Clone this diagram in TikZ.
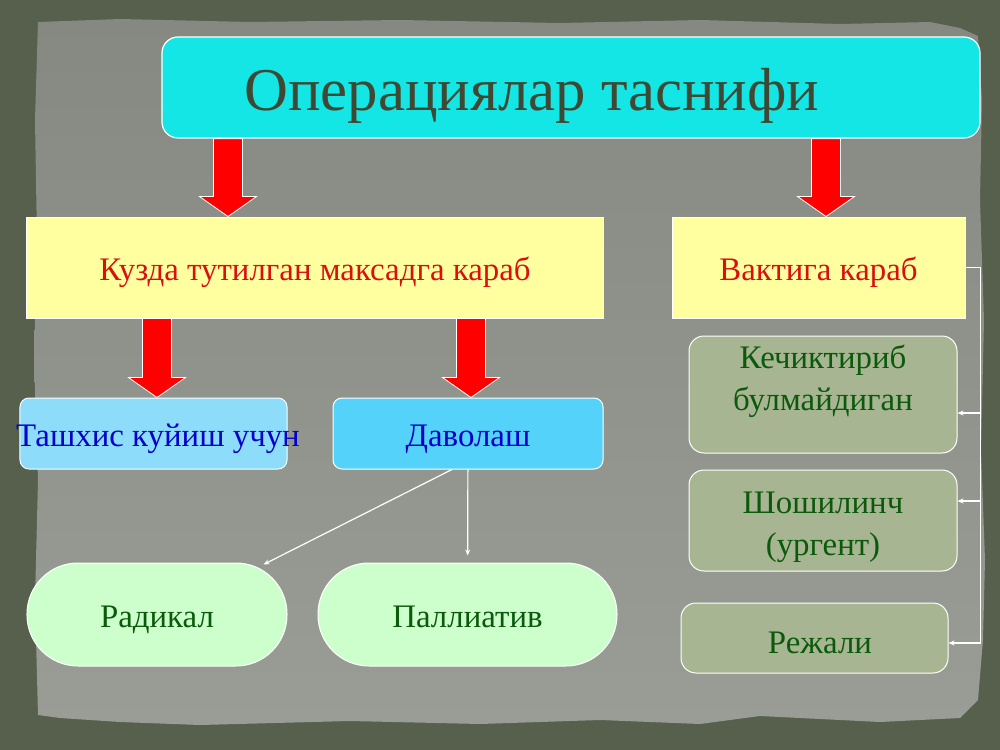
\documentclass[tikz,border=0pt]{standalone}
\usepackage{fontspec}
\setmainfont{Liberation Serif}
\usetikzlibrary{calc,arrows.meta}
\definecolor{framegray}{HTML}{56604D}
\definecolor{paneltop}{HTML}{858981}
\definecolor{panelbot}{HTML}{999D95}
\definecolor{titlecyan}{HTML}{14E6E6}
\definecolor{titleink}{HTML}{3E4832}
\definecolor{paleyellow}{HTML}{FFFFA0}
\definecolor{kred}{HTML}{D81010}
\definecolor{skyA}{HTML}{8CDCFA}
\definecolor{skyB}{HTML}{55D2FA}
\definecolor{kblue}{HTML}{0000CC}
\definecolor{mint}{HTML}{CCFFCC}
\definecolor{sage}{HTML}{A7B592}
\definecolor{dgreen}{HTML}{0B5A0B}
% red block arrow: x position, upper node, lower node
\newcommand\blockarrow[3]{%
\draw[redarrow] let \p1=(#1,0), \p2=(#2.south), \p3=(#3.north) in
 (\x1-14.5pt,\y2) -- (\x1+14.5pt,\y2) -- (\x1+14.5pt,\y3+20pt)
 -- (\x1+28.5pt,\y3+20pt) -- (\x1,\y3) -- (\x1-28.5pt,\y3+20pt)
 -- (\x1-14.5pt,\y3+20pt) -- cycle;}
\begin{document}
\begin{tikzpicture}[x=1bp,y=-1bp,
 bodyfont/.style={font=\fontsize{33}{42}\selectfont,text height=32bp,text depth=7bp},
 topbox/.style={draw=white,line width=1.2bp,fill=titlecyan,rounded corners=16bp,
  minimum width=818bp,minimum height=101bp,inner sep=0pt},
 yelbox/.style={draw=white,line width=1bp,fill=paleyellow,minimum height=101bp,
  inner sep=0pt,text=kred,bodyfont},
 bluebox/.style={draw=white,line width=1bp,rounded corners=9bp,minimum height=71bp,
  inner sep=0pt,text=kblue,bodyfont},
 pill/.style={draw=white,line width=1bp,fill=mint,rounded corners=51bp,
  minimum height=103bp,inner sep=0pt,text=dgreen,bodyfont},
 sagebox/.style={draw=white,line width=1bp,fill=sage,rounded corners=15bp,
  minimum width=268bp,inner sep=0pt},
 sagetxt/.style={align=center,text=dgreen,font=\fontsize{33}{42}\selectfont},
 redarrow/.style={draw=white,line width=0.8bp,fill=red},
 wline/.style={draw=white,line width=1.2bp},
 warrow/.style={wline,-{Stealth[length=6bp,width=5bp]}}]
\useasboundingbox (0,0) rectangle (1000,750);
% backdrop
\fill[framegray] (0,0) rectangle (1000,750);
\shade[top color=paneltop,bottom color=panelbot]
 (38,22) -- (120,19) -- (250,22) -- (400,20) -- (560,23) -- (700,20)
 -- (840,24) -- (930,22) -- (960,28) -- (978,36) -- (982,100) -- (980,200)
 -- (984,320) -- (981,450) -- (985,560) -- (983,640) -- (978,700)
 -- (960,718) -- (880,722) -- (760,716) -- (700,724) -- (600,720)
 -- (480,724) -- (350,721) -- (200,725) -- (120,722) -- (60,718)
 -- (38,715) -- (35,600) -- (38,480) -- (34,360) -- (37,240) -- (35,120) -- cycle;
% title
\node[topbox] (title) at (571,87.5) {};
\node[text=titleink,font=\fontsize{61}{70}\selectfont] (titletext) at (532,96)
 {Операциялар таснифи};
% second row
\node[yelbox,minimum width=576bp] (kuzda) at (315,267.5) {Кузда тутилган максадга караб};
\node[yelbox,minimum width=293bp] (vaqt) at (818.5,267.5) {Вактига караб};
% third row
\node[bluebox,fill=skyA,minimum width=267bp] (tashxis) at (153.5,433.5) {};
\node[text=kblue,bodyfont] (tashxistxt) at (158,433.5) {Ташхис куйиш учун};
\node[bluebox,fill=skyB,minimum width=270bp] (davolash) at (468,433.5) {Даволаш};
% bottom row
\node[pill,minimum width=260bp] (radikal) at (157,614.5) {Радикал};
\node[pill,minimum width=299bp] (palliativ) at (467.5,614.5) {Паллиатив};
% right column
\node[sagebox,minimum height=117bp] (kechik) at (823,394.5) {};
\node[sagetxt] (kechiktxt) at (823,381) {Кечиктириб\\булмайдиган};
\node[sagebox,minimum height=101bp] (shosh) at (823,520.5) {};
\node[sagetxt] (shoshtxt) at (823,527) {Шошилинч\\(ургент)};
\node[sagebox,minimum width=267bp,minimum height=70bp] (rejali) at (814.5,638) {};
\node[sagetxt] (rejalitxt) at (820,643) {Режали};
% red arrows
\blockarrow{228}{title}{kuzda}
\blockarrow{826}{title}{vaqt}
\blockarrow{157}{kuzda}{tashxis}
\blockarrow{471}{kuzda}{davolash}
% white connectors
\draw[warrow] ([xshift=-16bp]davolash.south) -- ([xshift=-24bp,yshift=-2bp]radikal.north east);
\draw[warrow,shorten >=7bp] (davolash) -- (palliativ);
\coordinate (bus) at ($(vaqt.east)+(15,0)$);
\coordinate (k1) at ([yshift=-18.5bp]kechik.east);
\coordinate (s1) at ([yshift=19.5bp]shosh.east);
\coordinate (r1) at ([yshift=-5bp]rejali.east);
\draw[wline] (vaqt.east) -- (bus) -- (bus |- r1);
\draw[warrow] (bus |- k1) -- (k1);
\draw[warrow] (bus |- s1) -- (s1);
\draw[warrow] (bus |- r1) -- (r1);
\end{tikzpicture}
\end{document}
